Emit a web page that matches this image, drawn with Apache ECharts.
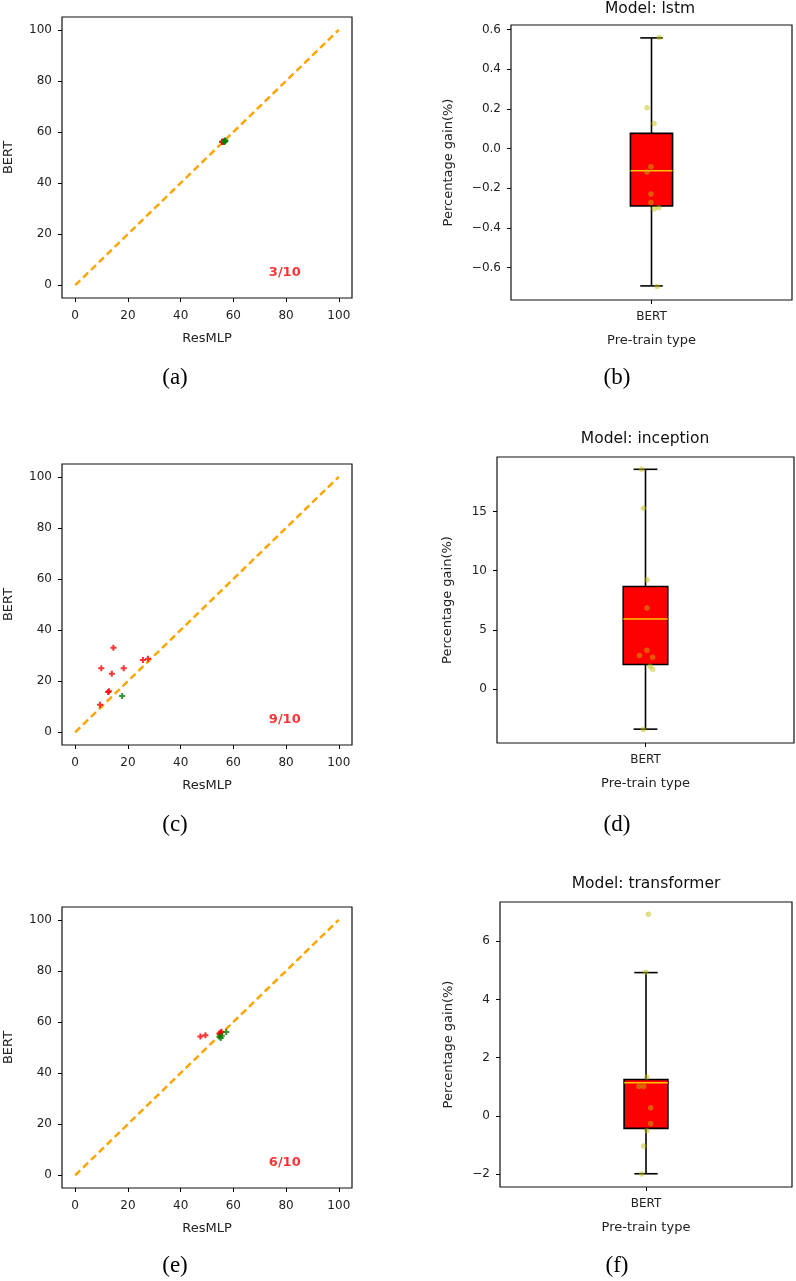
<!DOCTYPE html>
<html>
<head>
<meta charset="utf-8">
<script src="https://cdn.jsdelivr.net/npm/echarts@6/dist/echarts.min.js"></script>
<style>
  html, body { margin: 0; padding: 0; background: #fff; }
  #chart { width: 796px; height: 1281px; }
</style>
</head>
<body>
<div id="chart"></div>
<script>
// scatter panels: ResMLP (x) vs BERT (y)
const scatterTicks = [0, 20, 40, 60, 80, 100];

const lstmAbove = [[55.7, 56.1], [55.9, 56.3], [56.0, 56.2]];
const lstmBelow = [[56.9, 56.5], [56.7, 56.4], [56.5, 56.3], [56.8, 56.6], [56.6, 56.2], [56.9, 56.7], [56.4, 56.1]];
const lstmCount = '3/10';

const inceptionAbove = [[14.5, 33.1], [9.9, 25.0], [13.9, 22.9], [18.4, 25.0], [25.7, 28.3], [27.6, 28.8], [12.5, 15.7], [12.8, 16.0], [9.4, 10.8]];
const inceptionBelow = [[17.8, 14.2]];
const inceptionCount = '9/10';

const transformerAbove = [[47.5, 54.3], [49.4, 54.8], [54.7, 55.5], [55.2, 55.9], [54.9, 55.2], [55.5, 56.2]];
const transformerBelow = [[55.2, 53.7], [54.7, 54.2], [57.3, 56.1], [55.6, 54.6]];
const transformerCount = '6/10';

// box panels: [min, q1, median, q3, max]
const boxCategory = 'BERT';
const lstmBox = [-0.692, -0.289, -0.112, 0.077, 0.558];
const inceptionBox = [-3.39, 2.07, 5.91, 8.66, 18.56];
const transformerBox = [-1.99, -0.43, 1.14, 1.25, 4.92];

// jittered gain points
const lstmGainX = [1.028, 0.984, 1.009, 0.998, 0.984, 0.998, 0.998, 1.009, 1.026, 1.020];
const lstmGain = [0.56, 0.206, 0.127, -0.091, -0.118, -0.229, -0.271, -0.304, -0.298, -0.695];
const inceptionGainX = [0.987, 0.993, 1.005, 1.005, 1.005, 0.980, 1.024, 1.015, 1.024, 0.993];
const inceptionGain = [18.56, 15.28, 9.23, 6.84, 3.28, 2.83, 2.69, 1.93, 1.68, -3.42];
const transformerGainX = [1.008, 0.999, 1.003, 0.976, 0.992, 1.016, 1.016, 1.003, 0.992, 0.985];
const transformerGain = [6.92, 4.93, 1.33, 1.01, 1.01, 0.28, -0.26, -0.51, -1.04, -2.0];

const lstmTicks = [-0.6, -0.4, -0.2, 0, 0.2, 0.4, 0.6];
const inceptionTicks = [0, 5, 10, 15];
const transformerTicks = [-2, 0, 2, 4, 6];

const FONT = '"DejaVu Sans", sans-serif';
const plusSymbol = 'path://M2,0H4V2H6V4H4V6H2V4H0V2H2Z';

function fmt(decimals) {
    return function (v) {
        const s = Math.abs(v).toFixed(decimals);
        return (v < -1e-9 ? '\u2212' : '') + s;
    };
}

function valueAxis(idx, min, max, ticks, decimals, extra) {
    return Object.assign({
        type: 'value',
        gridIndex: idx,
        min: min,
        max: max,
        axisLine: { show: false, onZero: false },
        splitLine: { show: false },
        axisTick: { show: true, length: 4, customValues: ticks, lineStyle: { color: '#000', width: 1 } },
        axisLabel: { customValues: ticks, color: '#222', fontSize: 12, fontFamily: FONT, margin: 10, formatter: fmt(decimals) },
        nameLocation: 'middle',
        nameTextStyle: { color: '#222', fontSize: 13, fontFamily: FONT }
    }, extra);
}

function renderBox(params, api) {
    const x = api.value(0);
    const lo = api.value(1), q1 = api.value(2), med = api.value(3), q3 = api.value(4), hi = api.value(5);
    const bw = 0.075, cw = 0.04;
    const c = (a, b) => api.coord([a, b]);
    const black = { stroke: '#000', lineWidth: 1.6 };
    const seg = (p1, p2, style) => ({ type: 'line', shape: { x1: p1[0], y1: p1[1], x2: p2[0], y2: p2[1] }, style: style });
    const tl = c(x - bw, q3), br = c(x + bw, q1);
    return {
        type: 'group',
        children: [
            seg(c(x, hi), c(x, q3), black),
            seg(c(x, q1), c(x, lo), black),
            seg(c(x - cw, hi), c(x + cw, hi), black),
            seg(c(x - cw, lo), c(x + cw, lo), black),
            { type: 'rect', shape: { x: tl[0], y: tl[1], width: br[0] - tl[0], height: br[1] - tl[1] }, style: { fill: '#ff0000', stroke: '#000', lineWidth: 1.6 } },
            seg(c(x - bw, med), c(x + bw, med), { stroke: '#ffc400', lineWidth: 1.5 })
        ]
    };
}

const scatterGrids = [
    { left: 62, top: 17, width: 290, height: 281 },
    { left: 62, top: 464, width: 290, height: 281 },
    { left: 62, top: 907, width: 290, height: 281 }
];
const boxGrids = [
    { left: 511, top: 25, width: 281, height: 275 },
    { left: 497, top: 457, width: 297, height: 286 },
    { left: 500, top: 902, width: 292, height: 285 }
];

const grids = [];
const xAxes = [];
const yAxes = [];
const series = [];

const scatterSets = [
    [lstmAbove, lstmBelow, lstmCount],
    [inceptionAbove, inceptionBelow, inceptionCount],
    [transformerAbove, transformerBelow, transformerCount]
];
scatterSets.forEach(function (set, i) {
    const g = i * 2;
    grids[g] = Object.assign({ show: true, borderColor: '#111', borderWidth: 1.2, containLabel: false }, scatterGrids[i]);
    xAxes[g] = valueAxis(g, -5, 105, scatterTicks, 0, { name: 'ResMLP', nameGap: 34 });
    xAxes[g].axisLabel.margin = 12;
    yAxes[g] = valueAxis(g, -5, 105, scatterTicks, 0, { name: 'BERT', nameGap: 47 });
    series.push({
        type: 'line', xAxisIndex: g, yAxisIndex: g, data: [[0, 0], [100, 100]], symbol: 'none',
        lineStyle: { color: '#ffa500', width: 2.5, type: [7, 4] }, z: 2
    });
    series.push({
        type: 'scatter', xAxisIndex: g, yAxisIndex: g, data: set[0], symbol: plusSymbol, symbolSize: 6,
        itemStyle: { color: '#ff0000' }, z: 3
    });
    series.push({
        type: 'scatter', xAxisIndex: g, yAxisIndex: g, data: set[1], symbol: plusSymbol, symbolSize: 6,
        itemStyle: { color: '#008000' }, z: 3
    });
    series.push({
        type: 'scatter', xAxisIndex: g, yAxisIndex: g, data: [[79.5, 5]], symbolSize: 0, silent: true,
        label: { show: true, position: 'inside', formatter: set[2], color: '#ff0000', fontWeight: 'bold', fontSize: 13, fontFamily: FONT }, z: 4
    });
});

const boxSets = [
    [lstmBox, lstmGainX, lstmGain, lstmTicks, 1, [-0.763, 0.623], 56],
    [inceptionBox, inceptionGainX, inceptionGain, inceptionTicks, 0, [-4.56, 19.6], 43],
    [transformerBox, transformerGainX, transformerGain, transformerTicks, 0, [-2.445, 7.345], 45]
];
boxSets.forEach(function (set, i) {
    const g = i * 2 + 1;
    grids[g] = Object.assign({ show: true, borderColor: '#111', borderWidth: 1.2, containLabel: false }, boxGrids[i]);
    xAxes[g] = valueAxis(g, 0.5, 1.5, [1], 0, { name: 'Pre-train type', nameGap: 34 });
    xAxes[g].axisLabel.formatter = function () { return boxCategory; };
    xAxes[g].axisLabel.margin = 11;
    yAxes[g] = valueAxis(g, set[5][0], set[5][1], set[3], set[4], { name: 'Percentage gain(%)', nameGap: set[6] });
    series.push({
        type: 'custom', xAxisIndex: g, yAxisIndex: g, renderItem: renderBox,
        data: [[1].concat(set[0])], encode: { x: 0, y: [1, 2, 3, 4, 5] }, z: 2
    });
    series.push({
        type: 'scatter', xAxisIndex: g, yAxisIndex: g, symbol: 'circle', symbolSize: 5.5,
        data: set[2].map(function (v, k) { return [set[1][k], v]; }),
        itemStyle: { color: 'rgba(191,191,0,0.6)' }, z: 3
    });
});

const titles = [
    ['Model: lstm', 650, 9],
    ['Model: inception', 645, 439],
    ['Model: transformer', 646, 884]
];
const captions = [
    ['(a)', 175, 378], ['(b)', 617, 378],
    ['(c)', 175, 825], ['(d)', 617, 825],
    ['(e)', 175, 1266], ['(f)', 617, 1266]
];
const graphics = titles.map(function (t) {
    return { type: 'text', x: t[1], y: t[2], style: { text: t[0], fontSize: 15.5, fontFamily: FONT, fill: '#111', align: 'center', verticalAlign: 'middle' } };
}).concat(captions.map(function (t) {
    return { type: 'text', x: t[1], y: t[2], style: { text: t[0], fontSize: 23, fontFamily: '"Liberation Serif", serif', fill: '#000', align: 'center', verticalAlign: 'middle' } };
}));

const chart = echarts.init(document.getElementById('chart'));
chart.setOption({
    animation: false,
    backgroundColor: '#fff',
    grid: grids,
    xAxis: xAxes,
    yAxis: yAxes,
    series: series,
    graphic: graphics
});
</script>
</body>
</html>
